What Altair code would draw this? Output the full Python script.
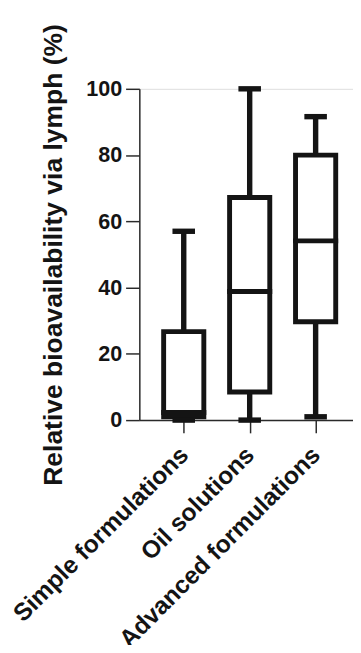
import altair as alt
import pandas as pd

categories = ["Simple formulations", "Oil solutions", "Advanced formulations"]
minimum = [0, 0, 1]
q1 = [1, 8.5, 29.7]
median = [2.3, 38.8, 54.1]
q3 = [26.7, 67.2, 80]
maximum = [57, 100, 91.6]

df = pd.DataFrame({
    "cat": categories,
    "min": minimum,
    "q1": q1,
    "median": median,
    "q3": q3,
    "max": maximum,
})

FONT = "Liberation Sans"
INK = "#141414"
AXIS = "#2a2a2a"

x = alt.X("cat:N", sort=categories,
          scale=alt.Scale(type="point", padding=0.62, align=0.543),
          axis=alt.Axis(title=None, labelAngle=-45, labelAlign="right",
                        labelBaseline="middle", labelFontSize=25,
                        labelFontWeight="bold", labelFont=FONT, labelColor=INK,
                        labelLimit=0, labelPadding=18,
                        tickSize=13, tickWidth=1.5, tickColor=AXIS,
                        domainColor=AXIS, domainWidth=1.5))
y_scale = alt.Scale(domain=[0, 100], nice=False)
y_axis = alt.Axis(title="Relative bioavailability via lymph (%)",
                  titleFontSize=27, titleFont=FONT, titleFontWeight="bold",
                  titleColor=INK, titlePadding=19,
                  values=[0, 20, 40, 60, 80, 100],
                  labelFontSize=22, labelFont=FONT, labelFontWeight="bold",
                  labelColor=INK, labelPadding=4,
                  tickSize=14, tickWidth=1.5, tickColor=AXIS,
                  domainColor=AXIS, domainWidth=1.5, grid=False)

base = alt.Chart(df)

whisk = base.mark_rule(color=INK, strokeWidth=5.5).encode(
    x=x, y=alt.Y("min:Q", scale=y_scale, axis=y_axis), y2="max:Q")
box = base.mark_bar(fill="white", stroke=INK, strokeWidth=5, size=41).encode(
    x=x, y="q1:Q", y2="q3:Q")
med = base.mark_tick(color=INK, thickness=5, size=46, opacity=1).encode(
    x=x, y="median:Q")
cap_lo = base.mark_tick(color=INK, thickness=5.5, size=23, opacity=1).encode(
    x=x, y="min:Q")
cap_hi = base.mark_tick(color=INK, thickness=5.5, size=23, opacity=1).encode(
    x=x, y="max:Q")

chart = alt.layer(whisk, box, med, cap_lo, cap_hi).properties(
    width=218, height=338,
    autosize=alt.AutoSizeParams(type="none"),
    padding={"left": 134, "top": 76, "right": 0, "bottom": 223},
).configure_view(stroke=None).configure(background="white")

chart.save("out.html", embed_options={"renderer": "svg", "actions": False})
